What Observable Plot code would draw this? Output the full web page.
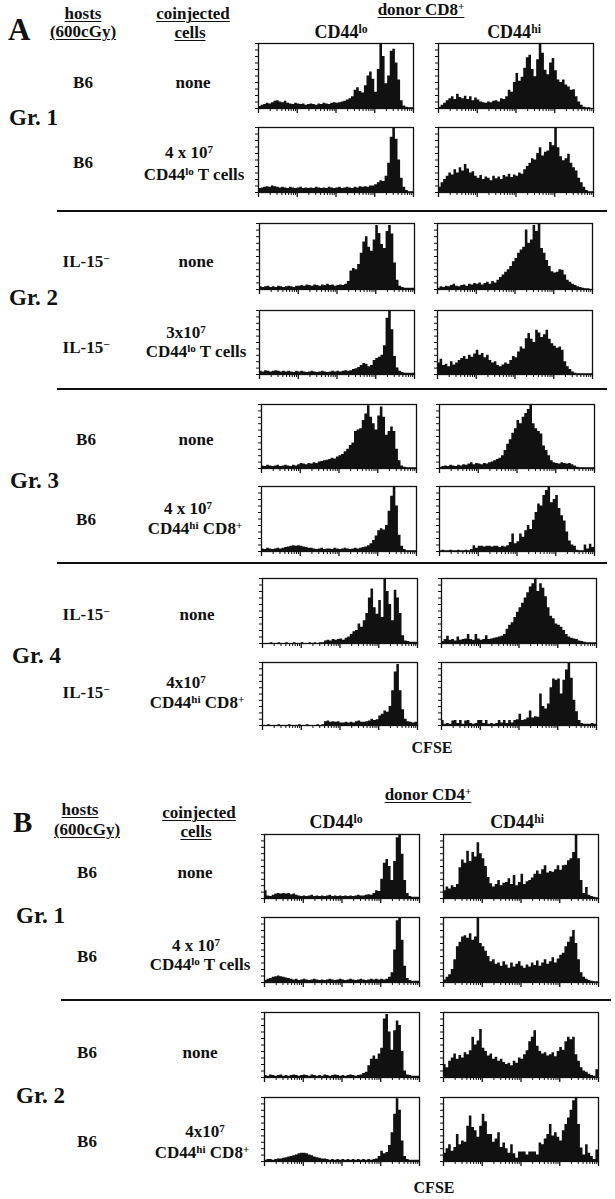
<!DOCTYPE html>
<html><head><meta charset="utf-8">
<script src="https://cdn.jsdelivr.net/npm/d3@7"></script>
<script src="https://cdn.jsdelivr.net/npm/@observablehq/plot@0.6"></script>
<style>
html,body{margin:0;padding:0;background:#fff;}
#fig{position:relative;width:615px;height:1199px;overflow:hidden;background:#fff;font-family:"Liberation Serif","Times New Roman",serif;font-weight:bold;color:#111;}
.t{position:absolute;white-space:nowrap;line-height:1;}
.t sup{font-size:0.65em;position:relative;top:-0.45em;vertical-align:baseline;line-height:0;}
.u{text-decoration:underline;text-decoration-thickness:1.2px;text-underline-offset:2px;}
.sep{position:absolute;height:2px;background:#111;}
.h{position:absolute;line-height:0;}
</style></head><body><div id="fig"></div><script>
// ---------- data: CFSE histograms, 60 log-spaced channels, % of max ----------
// Panel A (donor CD8+)
const A1lo = [3,5,6,8,7,9,11,12,10,9, 11,8,7,6,8,7,6,7,5,6, 7,6,5,7,6,8,7,6,8,9, 8,9,10,11,13,15,18,28,32,26, 24,35,50,56,45,25,60,99,80,38, 50,88,91,70,44,12,4,2,1,1];
const A1hi = [2,5,8,12,15,18,14,22,17,15, 19,14,18,12,16,13,10,9,8,10, 9,11,12,10,15,14,18,28,25,40, 54,42,48,62,78,82,60,49,75,100, 85,59,52,70,77,58,44,40,44,36, 33,28,29,18,10,5,2,1,1,0];
const A2lo = [6,7,8,9,8,10,9,8,7,8, 7,6,8,7,6,7,8,6,7,6, 7,6,8,7,6,7,6,8,7,6, 7,8,6,7,8,7,6,8,7,9, 8,9,8,10,10,12,15,18,17,25, 45,85,100,82,50,22,8,3,1,1];
const A2hi = [8,15,20,25,30,27,35,30,38,33, 43,36,30,32,25,22,26,20,24,22, 18,25,21,24,20,26,24,28,23,27, 25,30,28,35,40,45,52,50,60,69, 56,62,64,77,72,100,69,55,49,52, 59,45,38,33,22,15,8,3,1,1];
const A3lo = [4,3,4,5,3,4,3,5,4,3, 4,5,4,3,5,5,6,5,7,6, 5,7,6,5,7,6,8,6,7,5, 6,7,6,8,12,28,32,30,38,55, 72,80,64,58,75,97,85,68,62,88, 97,84,40,14,5,3,2,2,2,2];
const A3hi = [2,4,3,5,4,6,8,5,4,6, 7,5,8,7,9,8,10,7,9,11, 8,12,10,14,18,22,26,30,35,42, 47,55,60,64,90,70,75,97,88,100, 62,55,44,35,27,25,26,30,29,22, 14,11,8,6,4,3,2,1,1,0];
const A4lo = [5,4,6,5,4,5,6,5,4,5, 4,5,4,3,5,4,5,4,3,4, 5,4,3,4,5,4,3,4,5,4, 5,4,5,6,5,6,8,9,11,14, 17,16,12,14,22,25,27,30,45,88, 100,70,28,10,5,3,2,2,2,2];
const A4hi = [18,24,14,16,12,20,15,18,22,25, 28,24,30,27,32,38,30,33,26,30, 22,18,20,14,12,15,18,16,22,28, 26,35,43,40,56,64,55,50,69,65, 58,62,69,55,48,44,41,43,38,20, 12,8,4,2,1,1,1,1,1,1];
const A5lo = [4,3,5,4,3,4,5,3,4,5, 4,3,5,4,6,8,7,6,8,7, 9,8,10,11,12,13,14,16,15,18, 20,22,26,30,36,40,58,60,62,75, 85,98,80,70,60,82,96,80,52,58, 65,58,30,12,4,2,1,1,1,1];
const A5hi = [2,3,4,3,5,4,3,5,4,6, 5,7,9,6,8,7,6,8,7,9, 10,12,14,16,20,28,38,45,55,62, 75,70,80,86,92,100,70,62,58,54, 35,28,20,12,9,8,7,9,8,7, 8,6,4,2,1,1,1,1,1,1];
const A6lo = [4,3,5,4,3,4,5,4,5,6, 7,8,9,8,9,8,7,6,5,5, 4,3,4,5,3,4,4,3,5,4, 3,4,5,4,3,4,5,4,5,6, 7,9,12,17,24,32,35,33,40,62, 85,99,70,25,8,3,1,1,1,1];
const A6hi = [1,2,1,1,2,1,1,2,1,1, 2,1,3,9,5,8,8,7,8,8, 7,8,8,6,8,7,9,14,27,12, 15,27,22,32,40,34,48,60,73,70, 86,94,100,75,80,86,66,55,47,30, 16,10,8,2,1,1,10,4,11,6];
const A7lo = [0,0,0,1,0,0,1,0,0,1, 0,0,1,0,0,1,0,0,1,0, 1,0,1,1,4,5,4,6,5,6, 7,5,8,10,14,18,20,30,25,35, 46,70,84,55,45,66,40,100,80,60, 35,82,70,46,12,4,3,2,2,2];
const A7hi = [3,6,11,5,6,4,10,5,6,7, 14,6,5,14,7,5,6,12,6,7, 8,9,10,11,14,22,28,32,40,48, 55,62,70,78,87,92,100,80,92,85, 72,55,42,38,30,28,25,20,14,10, 8,7,6,4,3,2,1,1,1,1];
const A8lo = [0,0,1,0,0,0,1,0,0,0, 1,0,0,0,1,0,0,1,0,0, 0,1,0,1,6,7,5,6,5,6, 4,4,5,4,5,4,6,7,5,5, 6,7,10,8,9,15,18,23,21,30, 55,85,97,55,25,10,6,5,4,5];
const A8hi = [8,2,3,2,7,8,3,8,2,7, 8,3,2,3,8,8,3,8,2,3, 2,3,8,4,8,3,8,4,8,9, 18,8,9,12,23,12,14,13,50,30, 26,34,60,74,72,74,50,72,88,100, 75,40,22,8,3,2,2,2,3,2];
// Panel B (donor CD4+)
const B1lo = [12,4,3,5,7,8,7,8,7,8, 6,7,5,4,3,4,3,4,5,3, 4,3,4,3,4,5,3,4,3,4, 3,4,3,4,3,4,5,4,4,5, 6,5,8,12,11,30,55,61,50,28, 58,95,100,69,28,8,3,2,2,2];
const B1hi = [12,18,15,20,17,22,48,60,55,74, 58,72,65,87,70,62,50,33,23,18, 22,28,20,24,25,31,22,36,20,25, 38,22,26,28,32,38,43,38,45,51, 40,42,41,45,51,44,51,52,59,62, 72,100,62,28,8,17,5,3,2,1];
const B2lo = [3,5,6,8,9,10,9,8,7,6, 5,4,5,3,4,5,4,3,4,5, 4,3,4,3,4,5,4,3,4,5, 4,3,4,5,4,3,4,5,4,3, 4,5,4,5,4,5,4,5,8,15, 50,95,100,65,25,6,3,2,2,2];
const B2hi = [4,8,12,20,35,55,62,70,72,68, 75,65,70,100,60,55,48,40,32,35, 28,30,25,32,27,22,30,24,28,32, 25,22,27,24,30,26,33,25,30,35, 28,32,38,30,36,42,45,55,62,70, 80,60,35,15,8,5,3,2,1,1];
const B3lo = [3,2,4,3,2,3,4,2,3,2, 3,4,3,2,3,4,3,2,4,3, 2,3,2,4,3,2,3,4,3,2, 3,2,3,4,3,2,3,4,6,8, 18,28,33,28,36,45,90,97,70,42, 72,87,80,40,10,4,3,2,2,2];
const B3hi = [20,15,25,30,36,28,34,30,38,35, 41,62,50,56,74,45,40,33,36,28, 31,25,28,23,20,22,18,25,22,30, 28,35,41,55,62,72,48,40,36,38, 33,35,38,32,40,46,42,55,62,58, 62,35,25,15,10,8,5,3,2,12];
const B4lo = [2,3,3,2,3,4,4,5,6,7, 8,9,10,12,13,13,12,10,9,7, 6,5,4,4,3,2,3,2,3,2, 3,2,3,2,3,2,3,2,3,2, 3,2,3,4,8,16,12,14,25,45, 74,98,80,32,8,3,2,2,2,2];
const B4hi = [13,20,26,16,22,42,26,32,30,55, 71,53,48,38,55,74,62,42,42,30, 35,45,22,29,20,13,26,12,5,15, 15,15,10,15,15,15,10,29,26,35, 42,58,40,45,38,32,48,58,68,80, 95,100,58,21,10,26,13,8,3,18];

// axis ticks (CFSE log decades, count axis)
const cfseDomain = [1, 10000];
const cfseMajor = [1, 10, 100, 1000, 10000];
const cfseMinor = [2,3,4,5,6,7,8,9, 20,30,40,50,60,70,80,90, 200,300,400,500,600,700,800,900, 2000,3000,4000,5000,6000,7000,8000,9000];
const countTicks = [0,10,20,30,40,50,60,70,80,90,100];

// labels
const hostsA = ["B6","B6","IL-15<sup>−</sup>","IL-15<sup>−</sup>","B6","B6","IL-15<sup>−</sup>","IL-15<sup>−</sup>"];
const cellsA = [["none"],["4 x 10<sup>7</sup>","CD44<sup>lo</sup> T cells"],["none"],["3x10<sup>7</sup>","CD44<sup>lo</sup> T cells"],["none"],["4 x 10<sup>7</sup>","CD44<sup>hi</sup> CD8<sup>+</sup>"],["none"],["4x10<sup>7</sup>","CD44<sup>hi</sup> CD8<sup>+</sup>"]];
const hostsB = ["B6","B6","B6","B6"];
const cellsB = [["none"],["4 x 10<sup>7</sup>","CD44<sup>lo</sup> T cells"],["none"],["4x10<sup>7</sup>","CD44<sup>hi</sup> CD8<sup>+</sup>"]];
const groupsA = ["Gr. 1","Gr. 2","Gr. 3","Gr. 4"];
const groupsB = ["Gr. 1","Gr. 2"];

// ---------- layout ----------
const fig = document.getElementById("fig");
function txt(html, x, base, size, align, cls) {
  const d = document.createElement("div");
  d.className = "t " + (cls || "");
  d.innerHTML = html;
  d.style.fontSize = size + "px";
  d.style.top = (base - 0.8375 * size) + "px";
  d.style.left = x + "px";
  if (align !== "left") d.style.transform = "translateX(-50%)";
  fig.appendChild(d);
}
function sep(x1, x2, y) {
  const d = document.createElement("div");
  d.className = "sep";
  d.style.left = x1 + "px"; d.style.width = (x2 - x1) + "px"; d.style.top = (y - 1) + "px";
  fig.appendChild(d);
}
const ml = 6, mr = 3, mt = 2, mb = 7;
function hist(values, left, top, w, h) {
  const n = values.length;
  const pts = values.map((v, i) => ({x: Math.pow(10, 4 * i / n), v}));
  pts.push({x: cfseDomain[1], v: values[n - 1]});
  const marks = [
    Plot.areaY(pts, {x: "x", y: "v", curve: "step-after", fill: "#111"}),
    Plot.frame({stroke: "#111", strokeWidth: 1.3})
  ];
  const opts = {
    width: w + ml + mr, height: h + mt + mb,
    marginLeft: ml, marginRight: mr, marginTop: mt, marginBottom: mb,
    style: {background: "transparent", overflow: "visible"},
    x: {type: "log", domain: cfseDomain},
    y: {domain: [0, 100]}
  };
  if (Plot.axisX) {
    marks.push(
      Plot.axisX(cfseMajor, {tickSize: 5, strokeWidth: 1.3, tickFormat: () => "", label: null}),
      Plot.axisX(cfseMinor, {tickSize: 3, tickFormat: () => "", label: null}),
      Plot.axisY(countTicks, {tickSize: 3, tickFormat: () => "", label: null})
    );
  } else {
    opts.x.ticks = cfseMajor.concat(cfseMinor); opts.x.tickSize = 4; opts.x.tickFormat = () => ""; opts.x.label = null;
    opts.y.ticks = countTicks; opts.y.tickSize = 3; opts.y.tickFormat = () => ""; opts.y.label = null;
  }
  opts.marks = marks;
  const svg = Plot.plot(opts);
  const wrap = document.createElement("div");
  wrap.className = "h";
  wrap.style.left = (left - ml) + "px";
  wrap.style.top = (top - mt) + "px";
  wrap.appendChild(svg);
  fig.appendChild(wrap);
}

// Panel A
const histA = [[A1lo, A1hi],[A2lo, A2hi],[A3lo, A3hi],[A4lo, A4hi],[A5lo, A5hi],[A6lo, A6hi],[A7lo, A7hi],[A8lo, A8hi]];
const topA = [43, 127, 223, 310, 404, 486, 578, 662];
const hA = [65, 65, 66, 64, 64, 65, 65, 63];
const loXA = [258, 258, 259, 259, 261, 261, 262, 262];
const hiXA = [438, 438, 437, 437, 439, 439, 441, 441];
histA.forEach((p, i) => { hist(p[0], loXA[i], topA[i], 155, hA[i]); hist(p[1], hiXA[i], topA[i], 155, hA[i]); });

txt("A", 8, 40, 31, "left");
txt("hosts", 83, 19, 17, "center", "u");
txt("(600cGy)", 83, 37, 17, "center", "u");
txt("coinjected", 193, 19, 17, "center", "u");
txt("cells", 190, 38, 17, "center", "u");
txt("donor CD8<sup>+</sup>", 421, 15, 17, "center", "u");
txt("CD44<sup>lo</sup>", 341, 38, 18);
txt("CD44<sup>hi</sup>", 514, 38, 18);

const hostBaseA = [88, 168, 267, 353, 445, 525, 620, 698];
const hostXA = [83, 83, 86, 86, 86, 86, 86, 86];
const cellBaseA = [[88],[158,180],[267],[338,357],[445],[514,534],[620],[688,708]];
const cellXA = [[193],[189,194],[196],[186,196],[196],[188,195],[197],[186,197]];
hostsA.forEach((s, i) => txt(s, hostXA[i], hostBaseA[i], 17));
cellsA.forEach((lines, i) => lines.forEach((s, j) => txt(s, cellXA[i][j], cellBaseA[i][j], 17)));
const grBaseA = [125, 305, 488, 663];
const grXA = [9, 9, 10, 12];
groupsA.forEach((g, i) => txt(g, grXA[i], grBaseA[i], 23, "left"));
[211, 389, 563].forEach(y => sep(57, 607, y));
txt("CFSE", 432, 753, 16);

// Panel B
const histB = [[B1lo, B1hi],[B2lo, B2hi],[B3lo, B3hi],[B4lo, B4hi]];
const topB = [834, 917, 1012, 1097];
const hB = [64, 65, 65, 64];
histB.forEach((p, i) => { hist(p[0], 264, topB[i], 155, hB[i]); hist(p[1], 443, topB[i], 155, hB[i]); });

txt("B", 13, 832, 29, "left");
txt("hosts", 80, 815, 17, "center", "u");
txt("(600cGy)", 87, 835, 17, "center", "u");
txt("coinjected", 199, 818, 17, "center", "u");
txt("cells", 196, 837, 17, "center", "u");
txt("donor CD4<sup>+</sup>", 428, 800, 17, "center", "u");
txt("CD44<sup>lo</sup>", 336, 828, 18);
txt("CD44<sup>hi</sup>", 517, 828, 18);

const hostBaseB = [878, 962, 1058, 1147];
const cellBaseB = [[878],[951,970],[1058],[1137,1158]];
const cellXB = [[195],[196,200],[200],[205,202]];
hostsB.forEach((s, i) => txt(s, 87, hostBaseB[i], 17));
cellsB.forEach((lines, i) => lines.forEach((s, j) => txt(s, cellXB[i][j], cellBaseB[i][j], 17)));
groupsB.forEach((g, i) => txt(g, 16, [923, 1103][i], 23, "left"));
sep(61, 611, 1000);
txt("CFSE", 434, 1193, 16);
</script></body></html>
